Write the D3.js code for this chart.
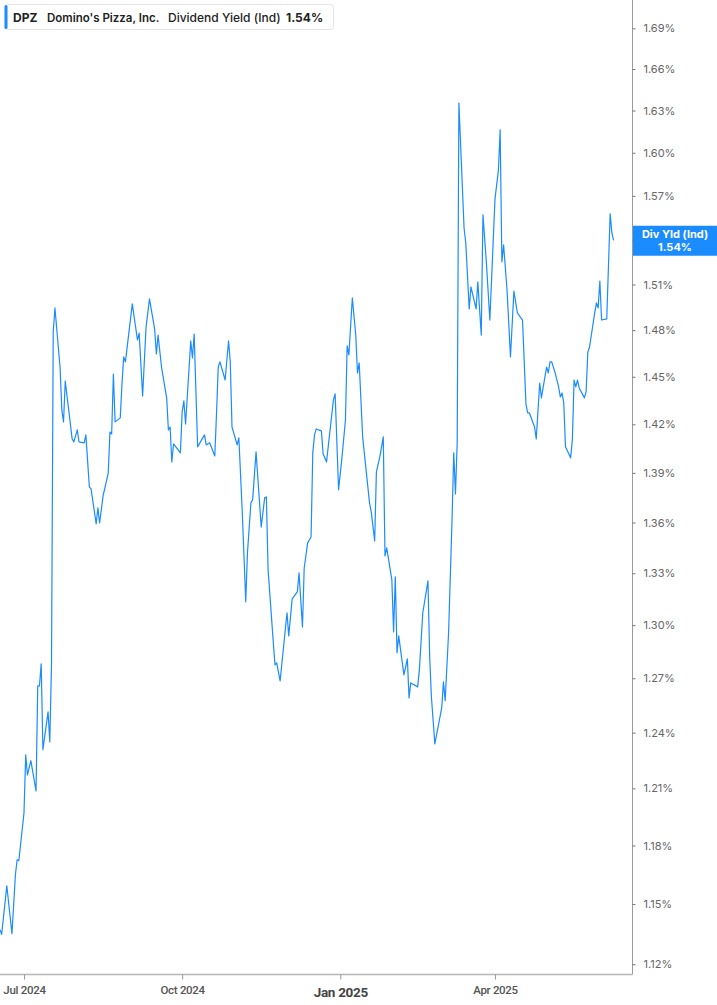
<!DOCTYPE html>
<html>
<head>
<meta charset="utf-8">
<script src="https://cdn.jsdelivr.net/npm/d3@7"></script>
<style>
  html, body { margin: 0; padding: 0; background: #fff; }
  svg { display: block; font-family: Inter, "Noto Sans", sans-serif; }
</style>
</head>
<body>
<svg id="chart" width="717" height="1005"></svg>
<script>
const dates = [
"2024-06-17","2024-06-18","2024-06-21","2024-06-24","2024-06-26","2024-06-27","2024-06-28",
"2024-07-01","2024-07-02","2024-07-03","2024-07-05","2024-07-08","2024-07-09","2024-07-10","2024-07-11","2024-07-12",
"2024-07-15","2024-07-16","2024-07-17","2024-07-18","2024-07-19","2024-07-22","2024-07-23","2024-07-24","2024-07-25",
"2024-07-29","2024-07-30","2024-08-01","2024-08-02","2024-08-05","2024-08-06","2024-08-08","2024-08-09",
"2024-08-12","2024-08-13","2024-08-14","2024-08-16","2024-08-19","2024-08-20","2024-08-21","2024-08-22","2024-08-23",
"2024-08-26","2024-08-27","2024-08-28","2024-08-29","2024-09-02","2024-09-05","2024-09-06","2024-09-08","2024-09-10",
"2024-09-12","2024-09-15","2024-09-16","2024-09-17","2024-09-19","2024-09-22","2024-09-23","2024-09-24","2024-09-25",
"2024-09-26","2024-09-30","2024-10-01","2024-10-02","2024-10-03","2024-10-06","2024-10-07","2024-10-08","2024-10-10",
"2024-10-14","2024-10-15","2024-10-17","2024-10-20","2024-10-21","2024-10-22","2024-10-23","2024-10-26","2024-10-28",
"2024-10-29","2024-10-30","2024-11-02","2024-11-03","2024-11-05","2024-11-07","2024-11-08","2024-11-10","2024-11-11",
"2024-11-13","2024-11-16","2024-11-18","2024-11-19","2024-11-20","2024-11-23","2024-11-24","2024-11-25","2024-11-27",
"2024-11-29","2024-12-01","2024-12-02","2024-12-04","2024-12-07","2024-12-08","2024-12-10","2024-12-11","2024-12-13",
"2024-12-15","2024-12-16","2024-12-17","2024-12-18","2024-12-21","2024-12-22","2024-12-24","2024-12-28","2024-12-29",
"2024-12-31","2025-01-02","2025-01-04","2025-01-05","2025-01-06","2025-01-08","2025-01-10","2025-01-11","2025-01-12",
"2025-01-14","2025-01-18","2025-01-19","2025-01-21","2025-01-22","2025-01-24","2025-01-26","2025-01-27","2025-01-28",
"2025-01-31","2025-02-01","2025-02-02","2025-02-03","2025-02-04","2025-02-07","2025-02-09","2025-02-10","2025-02-11",
"2025-02-15","2025-02-16","2025-02-18","2025-02-21","2025-02-22","2025-02-23","2025-02-25","2025-03-01","2025-03-02",
"2025-03-03","2025-03-05","2025-03-07","2025-03-08","2025-03-09","2025-03-10","2025-03-11","2025-03-14","2025-03-15",
"2025-03-17","2025-03-18","2025-03-21","2025-03-22","2025-03-24","2025-03-25","2025-03-27","2025-03-29","2025-04-01",
"2025-04-03","2025-04-04","2025-04-05","2025-04-06","2025-04-08","2025-04-10","2025-04-12","2025-04-14","2025-04-17",
"2025-04-19","2025-04-20","2025-04-21","2025-04-24","2025-04-25","2025-04-27","2025-04-28","2025-05-01","2025-05-02",
"2025-05-03","2025-05-04","2025-05-06","2025-05-08","2025-05-09","2025-05-10","2025-05-11","2025-05-12","2025-05-15",
"2025-05-16","2025-05-17","2025-05-18","2025-05-19","2025-05-20","2025-05-23","2025-05-24","2025-05-25","2025-05-26",
"2025-05-29","2025-05-30","2025-05-31","2025-06-01","2025-06-02","2025-06-05","2025-06-07","2025-06-08","2025-06-09"
];

const yieldValues = [
1.1371,1.1348,1.1593,1.1351,1.1649,1.1726,1.1721,
1.1971,1.2280,1.2172,1.2248,1.2086,1.2658,1.2658,1.2781,1.2307,
1.2514,1.2350,1.2775,1.4788,1.4945,1.4556,1.4290,1.4215,1.4473,
1.4109,1.4091,1.4165,1.4091,1.4085,1.4134,1.3815,1.3803,
1.3591,1.3688,1.3597,1.3760,1.3899,1.4152,1.4140,1.4517,1.4215,
1.4240,1.4454,1.4627,1.4595,1.4972,1.4736,1.4781,1.4378,1.4820,
1.5005,1.4807,1.4646,1.4768,1.4562,1.4366,1.4165,1.4183,1.3967,
1.4078,1.4023,1.4278,1.4347,1.4202,1.4730,1.4620,1.4775,1.4060,
1.4134,1.4072,1.4085,1.4004,1.4271,1.4562,1.4595,1.4479,1.4730,
1.4595,1.4183,1.4072,1.4115,1.3657,1.3134,1.3420,1.3718,1.3736,
1.4029,1.3573,1.3748,1.3754,1.3320,1.2905,1.2775,1.2786,1.2685,
1.2877,1.3071,1.2939,1.3151,1.3192,1.3302,1.2990,1.3331,1.3479,
1.3514,1.4023,1.4134,1.4171,1.4159,1.4017,1.3967,1.4353,1.4391,
1.3797,1.3998,1.4227,1.4698,1.4640,1.5011,1.4768,1.4524,1.4588,
1.4122,1.3718,1.3664,1.3491,1.3906,1.3998,1.4122,1.3402,1.3449,
1.3261,1.2962,1.3279,1.2843,1.2939,1.2719,1.2809,1.2591,1.2674,
1.2652,1.2747,1.3071,1.3255,1.2820,1.2597,1.2339,1.2536,1.2680,
1.2575,1.2956,1.3615,1.4023,1.3772,1.4085,1.6354,1.5480,1.5378,
1.4939,1.5084,1.4939,1.5117,1.4768,1.5569,1.5244,1.4866,1.5679,
1.5880,1.6162,1.5251,1.5365,1.5064,1.4627,1.5057,1.4913,1.4866,
1.4328,1.4271,1.4271,1.4183,1.4109,1.4460,1.4366,1.4562,1.4524,
1.4595,1.4595,1.4524,1.4435,1.4372,1.4397,1.4334,1.4060,1.3992,
1.4103,1.4479,1.4435,1.4479,1.4429,1.4366,1.4404,1.4659,1.4691,
1.4913,1.4978,1.4945,1.5123,1.4866,1.4873,1.5576,1.5446,1.5395
];

const yTickValues = [1.12,1.15,1.18,1.21,1.24,1.27,1.30,1.33,1.36,1.39,1.42,1.45,1.48,1.51,1.54,1.57,1.60,1.63,1.66,1.69];
const xTickDates = ["2024-07-01","2024-10-01","2025-01-01","2025-04-01"];
const xTickLabels = ["Jul 2024","Oct 2024","Jan 2025","Apr 2025"];

const legendParts = ["DPZ","Domino's Pizza, Inc.","Dividend Yield (Ind)","1.54%"];
const endLabelLines = ["Div Yld (Ind)","1.54%"];
const lastLabelValue = 1.54;

const parse = d3.timeParse("%Y-%m-%d");
const data = dates.map((d, i) => ({ date: parse(d), value: yieldValues[i] }));

const W = 717, H = 1005;
const plotRight = 632, plotBottom = 974;
const lineColor = "#1a8cff";

const svg = d3.select("#chart");

const x = d3.scaleTime()
  .domain([parse("2024-07-01"), parse("2025-04-01")])
  .range([24, 495]);

const y = d3.scaleLog()
  .domain([1.12, 1.69])
  .range([964.2, 28.3]);

svg.append("defs").append("clipPath").attr("id", "plotclip")
  .append("rect").attr("x", 0).attr("y", 0).attr("width", plotRight).attr("height", plotBottom);

const line = d3.line().x(d => x(d.date)).y(d => y(d.value));
svg.append("path")
  .datum(data)
  .attr("clip-path", "url(#plotclip)")
  .attr("fill", "none")
  .attr("stroke", lineColor)
  .attr("stroke-width", 1.2)
  .attr("stroke-linejoin", "round")
  .attr("d", line);

svg.append("line").attr("x1", plotRight + 0.5).attr("x2", plotRight + 0.5)
  .attr("y1", 0).attr("y2", plotBottom + 0.5).attr("stroke", "#9a9a9a").attr("stroke-width", 1);
svg.append("line").attr("x1", 0).attr("x2", plotRight + 0.5)
  .attr("y1", plotBottom + 0.5).attr("y2", plotBottom + 0.5).attr("stroke", "#b5b5b5").attr("stroke-width", 1.5);

// y axis (right); the tick label under the end-label box is hidden, as in the reference
const yAxis = d3.axisRight(y)
  .tickValues(yTickValues)
  .tickSize(3)
  .tickPadding(8)
  .tickFormat(d => Math.abs(d - lastLabelValue) < 1e-9 ? "" : d.toFixed(2) + "%");
const gy = svg.append("g").attr("transform", `translate(${plotRight + 0.5},0)`).call(yAxis);
gy.select(".domain").remove();
gy.selectAll(".tick line").attr("stroke", "#777");
gy.selectAll(".tick text")
  .attr("fill", "#666")
  .style("font-family", "Inter, 'Noto Sans', sans-serif")
  .style("font-size", "11px");

const xAxis = d3.axisBottom(x)
  .tickValues(xTickDates.map(parse))
  .tickSize(5)
  .tickPadding(6)
  .tickFormat((d, i) => xTickLabels[i]);
const gx = svg.append("g").attr("transform", `translate(0,${plotBottom + 0.5})`).call(xAxis);
gx.select(".domain").remove();
gx.selectAll(".tick line").attr("stroke", "#999");
gx.selectAll(".tick text")
  .attr("fill", "#555")
  .style("font-family", "'Roboto', 'Noto Sans', sans-serif")
  .style("font-size", "11.5px")
  .style("font-weight", "500")
  .style("letter-spacing", "-0.3px");
gx.selectAll(".tick text").filter((d, i) => i === 2)
  .style("font-size", "13.5px")
  .style("font-weight", "700")
  .attr("fill", "#444")
  .attr("dy", "0.85em");

const ly = y(lastLabelValue);
svg.append("rect")
  .attr("x", plotRight + 1).attr("y", ly - 14)
  .attr("width", W - plotRight - 1).attr("height", 30)
  .attr("fill", lineColor);
svg.append("text")
  .attr("x", 675).attr("y", ly - 1.5)
  .attr("text-anchor", "middle")
  .attr("fill", "#fff")
  .style("font-size", "11px").style("font-weight", "700")
  .text(endLabelLines[0]);
svg.append("text")
  .attr("x", 675).attr("y", ly + 11)
  .attr("text-anchor", "middle")
  .attr("fill", "#fff")
  .style("font-size", "11px").style("font-weight", "700")
  .text(endLabelLines[1]);

const lg = svg.append("g");
lg.append("rect").attr("x", 5.5).attr("y", 4.5).attr("width", 328).attr("height", 25)
  .attr("rx", 3).attr("fill", "#fff").attr("stroke", "#e4e4e4");
lg.append("rect").attr("x", 4.5).attr("y", 5).attr("width", 3).attr("height", 24)
  .attr("rx", 1.5).attr("fill", lineColor);
const legendX = [13, 47, 168, 286];
const legendW = ["700", "600", "500", "700"];
const legendS = ["12px", "11.5px", "12px", "12px"];
legendParts.forEach((t, i) => {
  lg.append("text")
    .attr("x", legendX[i]).attr("y", 21.5)
    .attr("fill", "#222")
    .style("font-size", legendS[i])
    .style("font-weight", legendW[i])
    .text(t);
});
</script>
</body>
</html>
